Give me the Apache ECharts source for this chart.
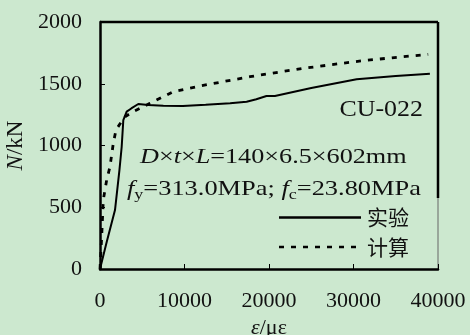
<!DOCTYPE html>
<html>
<head>
<meta charset="utf-8">
<script src="https://cdn.jsdelivr.net/npm/echarts@6/dist/echarts.min.js"></script>
<style>
  html, body { margin: 0; padding: 0; background: #cce8cf; }
  #chart { width: 470px; height: 335px; }
</style>
</head>
<body>
<div id="chart"></div>
<script>
// Axial load N (kN) versus strain ε (με) for specimen CU-022
const xTicks = [0, 10000, 20000, 30000, 40000];
const yTicks = [0, 500, 1000, 1500, 2000];

// Test curve (实验)
const testStrain = [0, 800, 1775, 2300, 2567, 2760, 3155, 3700, 4535, 5720, 7500, 9800, 12500, 15400, 17350, 18500, 19700, 20700, 25000, 30370, 35000, 39040];
const testLoad   = [0, 220, 477, 800, 990, 1206, 1274, 1300, 1336, 1328, 1322, 1320, 1330, 1342, 1355, 1375, 1401, 1401, 1465, 1536, 1562, 1581];

// Calculated curve (计算)
const calcStrain = [0, 200, 390, 790, 1180, 1575, 1890, 2500, 2960, 3940, 5915, 8670, 11830, 17750, 24050, 31150, 35880, 38840];
const calcLoad   = [0, 262, 560, 720, 828, 1018, 1125, 1190, 1233, 1274, 1342, 1436, 1482, 1557, 1625, 1687, 1719, 1738];

const serif = '"Liberation Serif", "Times New Roman", serif';
const cjk = '"Noto Sans CJK SC", sans-serif';

const pairs = (xs, ys) => xs.map((x, i) => [x, ys[i]]);

const chart = echarts.init(document.getElementById('chart'));
chart.setOption({
  backgroundColor: '#cce8cf',
  animation: false,
  grid: { left: 100, right: 32, top: 22, bottom: 66, containLabel: false, outerBoundsMode: 'none' },
  xAxis: {
    type: 'value', min: xTicks[0], max: xTicks[xTicks.length - 1], interval: 10000,
    axisLine: { show: true, lineStyle: { color: '#000', width: 2.5 } },
    axisTick: { show: true, inside: true, length: 5, lineStyle: { color: '#000', width: 1 } },
    axisLabel: { color: '#111', fontFamily: serif, fontSize: 22, margin: 21, formatter: v => String(v) },
    splitLine: { show: false },
    name: '{i|ε}{n|/με}', nameLocation: 'middle', nameGap: 42,
    nameTextStyle: {
      rich: {
        i: { fontFamily: serif, fontSize: 22, fontStyle: 'italic', color: '#111' },
        n: { fontFamily: serif, fontSize: 22, color: '#111' }
      }
    }
  },
  yAxis: {
    type: 'value', min: yTicks[0], max: yTicks[yTicks.length - 1], interval: 500,
    axisLine: { show: true, lineStyle: { color: '#000', width: 2.5 } },
    axisTick: { show: true, inside: true, length: 5, lineStyle: { color: '#000', width: 1 } },
    axisLabel: { color: '#111', fontFamily: serif, fontSize: 22, margin: 18, formatter: v => String(v) },
    splitLine: { show: false },
    name: '{i|N}{n|/kN}', nameLocation: 'middle', nameGap: 68, nameRotate: 90,
    nameTextStyle: {
      rich: {
        i: { fontFamily: serif, fontSize: 23, fontStyle: 'italic', color: '#111' },
        n: { fontFamily: serif, fontSize: 23, color: '#111' }
      }
    }
  },
  series: [
    {
      name: '实验', type: 'line', data: pairs(testStrain, testLoad),
      showSymbol: false, smooth: false,
      lineStyle: { color: '#000', width: 2 }
    },
    {
      name: '计算', type: 'line', data: pairs(calcStrain, calcLoad),
      showSymbol: false, smooth: false,
      lineStyle: { color: '#000', width: 2.8, type: [5, 7] }
    }
  ]
});

// Frame (top and right edges), annotations and legend keyed to the grid
const p = (x, y) => chart.convertToPixel({ gridIndex: 0 }, [x, y]);
const tl = p(0, 2000), br = p(40000, 0);
const richStyles = {
  i: { fontFamily: serif, fontSize: 22, fontStyle: 'italic', fill: '#111' },
  n: { fontFamily: serif, fontSize: 22, fill: '#111' },
  s: { fontFamily: serif, fontSize: 15, fill: '#111', padding: [12, 0, 0, 0] },
  big: { fontFamily: serif, fontSize: 24, fill: '#111' },
  c: { fontFamily: cjk, fontSize: 21, fill: '#111' }
};
const txt = (x, y, text, align, sx) => ({
  type: 'text', x, y, scaleX: sx || 1,
  style: { text, rich: richStyles, align: align || 'left', verticalAlign: 'middle', fill: '#111' }
});
chart.setOption({
  graphic: [
    { type: 'line', shape: { x1: tl[0], y1: tl[1], x2: br[0], y2: tl[1] }, style: { stroke: '#000', lineWidth: 2.5 } },
    { type: 'line', shape: { x1: br[0], y1: tl[1], x2: br[0], y2: 198 }, style: { stroke: '#000', lineWidth: 2.5 } },
    { type: 'line', shape: { x1: br[0], y1: 198, x2: br[0], y2: br[1] }, style: { stroke: '#666', lineWidth: 1 } },
    txt(423, 110, '{big|CU-022}', 'right', 1.08),
    txt(140, 157, '{i|D}{n|×}{i|t}{n|×}{i|L}{n|=140×6.5×602mm}', 'left', 1.19),
    txt(127, 189, '{i|f}{s|y}{n|=313.0MPa; }{i|f}{s|c}{n|=23.80MPa}', 'left', 1.2),
    { type: 'line', shape: { x1: 279, y1: 217.5, x2: 361, y2: 217.5 }, style: { stroke: '#000', lineWidth: 2.3 } },
    { type: 'line', shape: { x1: 279, y1: 247, x2: 361, y2: 247 }, style: { stroke: '#000', lineWidth: 2.3, lineDash: [5, 7] } },
    txt(367, 217, '{c|实验}'),
    txt(367, 247, '{c|计算}')
  ]
});
</script>
</body>
</html>
